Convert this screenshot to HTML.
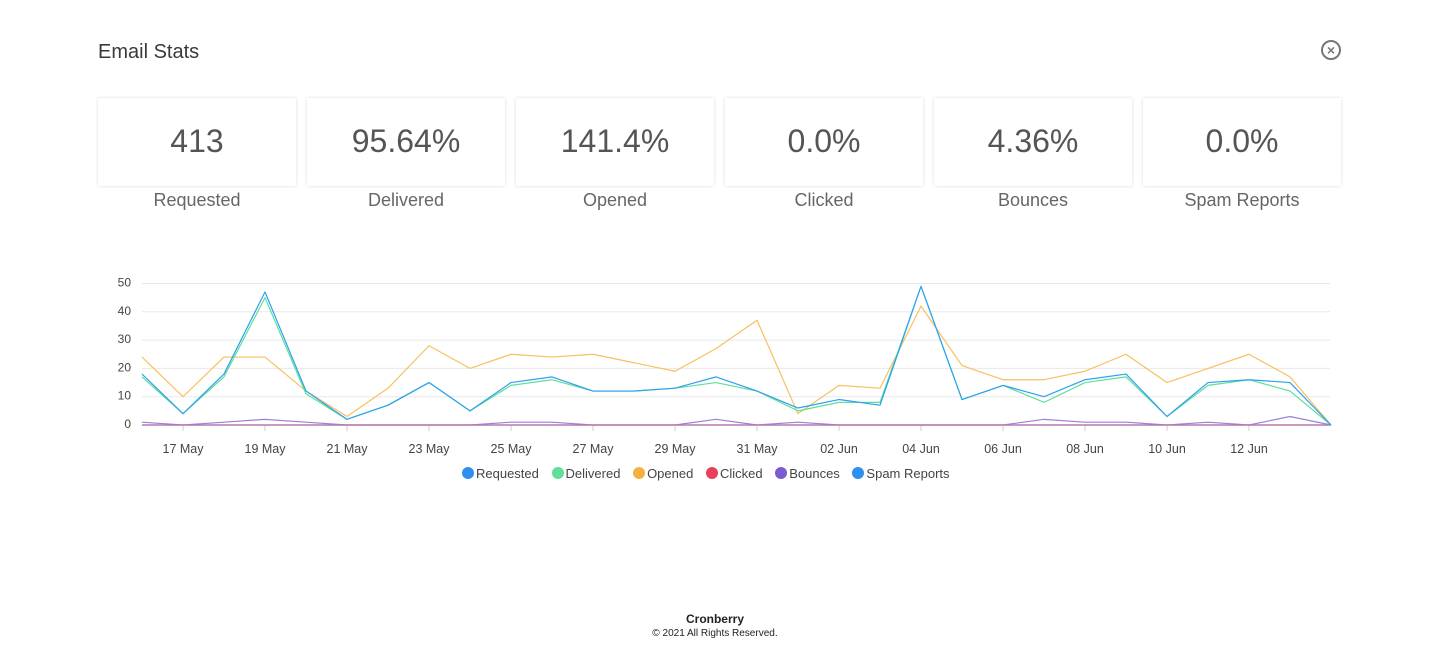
<!DOCTYPE html>
<html><head><meta charset="utf-8">
<style>
body{margin:0;width:1430px;height:650px;background:#fff;font-family:"Liberation Sans",sans-serif;position:relative;overflow:hidden}
.title{position:absolute;left:98px;top:41px;font-size:20px;color:#3a3a3a}
.close{position:absolute;left:1321px;top:40px;width:16px;height:16px;border:2px solid #777;border-radius:50%;text-align:center;line-height:16px;font-size:14px;color:#777;font-weight:bold}
.card{position:absolute;top:98px;width:198px;height:88px;box-shadow:0 0 3px rgba(0,0,0,0.15);text-align:center;line-height:86px;font-size:32px;color:#555}
.lbl{position:absolute;top:190px;width:198px;text-align:center;font-size:18px;color:#666}
.legend{position:absolute;top:466px;left:462px;font-size:13px;color:#444;white-space:nowrap}
.legend span{margin-right:9px}
.legend i{display:inline-block;width:12px;height:12px;border-radius:50%;vertical-align:-1px;margin-right:2px}
.foot{position:absolute;left:0;width:1430px;text-align:center;color:#222}
</style></head><body>
<div class="title">Email Stats</div>
<div class="close">×</div>
<div class="card" style="left:98px">413</div>
<div class="card" style="left:307px">95.64%</div>
<div class="card" style="left:516px">141.4%</div>
<div class="card" style="left:725px">0.0%</div>
<div class="card" style="left:934px">4.36%</div>
<div class="card" style="left:1143px">0.0%</div>
<div class="lbl" style="left:98px">Requested</div>
<div class="lbl" style="left:307px">Delivered</div>
<div class="lbl" style="left:516px">Opened</div>
<div class="lbl" style="left:725px">Clicked</div>
<div class="lbl" style="left:934px">Bounces</div>
<div class="lbl" style="left:1143px">Spam Reports</div>
<svg id="chart" width="1430" height="650" style="position:absolute;left:0;top:0"></svg>
<div class="legend">
<span><i style="background:#2e8ff0"></i>Requested</span>
<span><i style="background:#5fdf9a"></i>Delivered</span>
<span><i style="background:#f5b040"></i>Opened</span>
<span><i style="background:#e8405a"></i>Clicked</span>
<span><i style="background:#7b5bd0"></i>Bounces</span>
<span><i style="background:#2e8ff0"></i>Spam Reports</span>
</div>
<div class="foot" style="top:612px;font-size:12px;font-weight:bold">Cronberry</div>
<div class="foot" style="top:628px;font-size:10px">© 2021 All Rights Reserved.</div>
<script>
const categories=["16 May","17 May","18 May","19 May","20 May","21 May","22 May","23 May","24 May","25 May","26 May","27 May","28 May","29 May","30 May","31 May","01 Jun","02 Jun","03 Jun","04 Jun","05 Jun","06 Jun","07 Jun","08 Jun","09 Jun","10 Jun","11 Jun","12 Jun","13 Jun","14 Jun"];
const requested=[18,4,18,47,12,2,7,15,5,15,17,12,12,13,17,12,6,9,7,49,9,14,10,16,18,3,15,16,15,0];
const delivered=[17,4,17,45,11,2,7,15,5,14,16,12,12,13,15,12,5,8,8,49,9,14,8,15,17,3,14,16,12,0];
const opened=[24,10,24,24,12,3,13,28,20,25,24,25,22,19,27,37,4,14,13,42,21,16,16,19,25,15,20,25,17,0];
const clicked=[0,0,0,0,0,0,0,0,0,0,0,0,0,0,0,0,0,0,0,0,0,0,0,0,0,0,0,0,0,0];
const bounces=[1,0,1,2,1,0,0,0,0,1,1,0,0,0,2,0,1,0,0,0,0,0,2,1,1,0,1,0,3,0];
const spam=[0,0,0,0,0,0,0,0,0,0,0,0,0,0,0,0,0,0,0,0,0,0,0,0,0,0,0,0,0,0];
const yTicks=[0,10,20,30,40,50];
const NS="http://www.w3.org/2000/svg";
const svg=document.getElementById('chart');
const x0=142,x1=1331,y0=425,yTop=283.5;
const xs=i=>x0+(x1-x0)*i/(categories.length-1);
const ys=v=>y0-(y0-yTop)*v/50;
function mk(t,a){const e=document.createElementNS(NS,t);for(const k in a)e.setAttribute(k,a[k]);svg.appendChild(e);return e;}
yTicks.forEach(v=>{
  const g=mk('line',{x1:x0,x2:1330,y1:ys(v),y2:ys(v),stroke:v===0?'#ccc':'#e8e8e8','stroke-width':1});
  
  
  const t=mk('text',{x:131,y:ys(v)+3,'text-anchor':'end','font-size':12,fill:'#444','font-family':'Liberation Sans,sans-serif'});
  t.textContent=v;
  
  
});
categories.forEach((c,i)=>{
  if(i%2===1&&i<28){
    const l=mk('line',{x1:xs(i),x2:xs(i),y1:y0,y2:y0+6,stroke:'#ccc'});
    
    
    const t=mk('text',{x:xs(i),y:453,'text-anchor':'middle','font-size':12.5,fill:'#444','font-family':'Liberation Sans,sans-serif'});
    t.textContent=c;
    
    
  }
});
const series=[[opened,'#f8c060','opened'],[clicked,'#e8405a','clicked'],[bounces,'#9a80dd','bounces'],[spam,'#b07ab0','spam-reports'],[delivered,'#5fdf9a','delivered'],[requested,'#2ea0f0','requested']];
series.forEach(([d,c,n])=>{
  const p=mk('polyline',{points:d.map((v,i)=>xs(i)+','+ys(v)).join(' '),fill:'none',stroke:c,'stroke-width':1.2,'stroke-linejoin':'round'});
  
  
});
</script>
</body></html>
